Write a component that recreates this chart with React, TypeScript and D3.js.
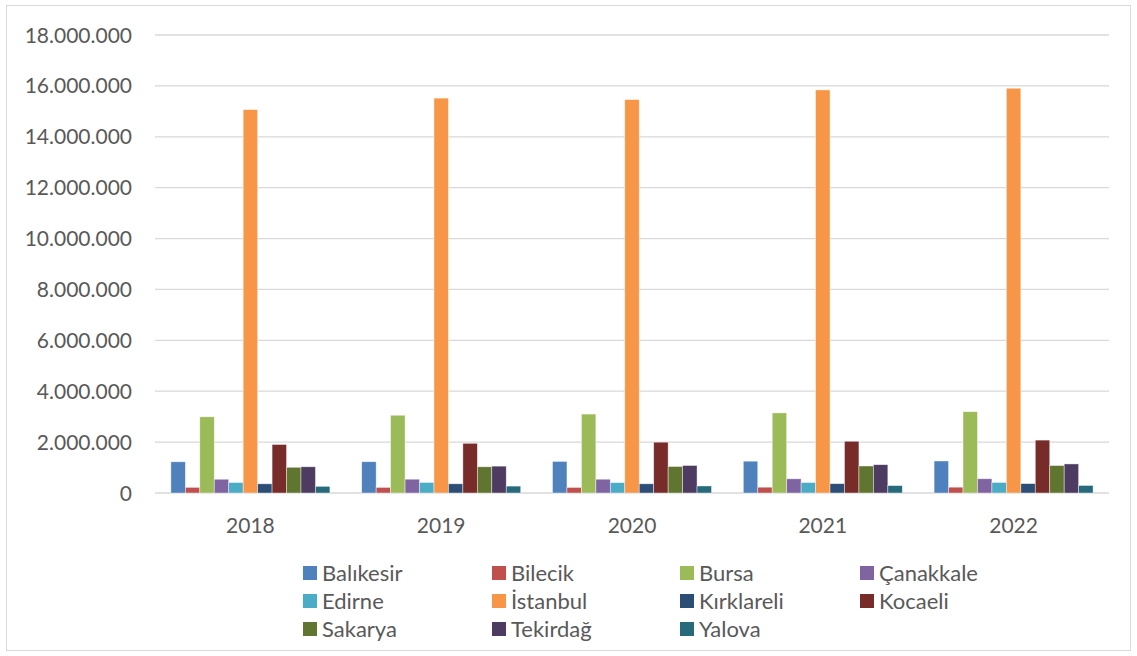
import React from "react";
import * as d3 from "d3";

const years = ["2018", "2019", "2020", "2021", "2022"];
const provinces = ["Balıkesir", "Bilecik", "Bursa", "Çanakkale", "Edirne", "İstanbul", "Kırklareli", "Kocaeli", "Sakarya", "Tekirdağ", "Yalova"];
const colors = ["#4F81BD", "#C0504D", "#9BBB59", "#8064A2", "#4BACC6", "#F79646", "#2C4D75", "#772C2A", "#5F7530", "#4D3B62", "#276A7C"];

const balikesir = [1226575, 1228620, 1240285, 1250610, 1257590];
const bilecik = [221693, 219427, 218297, 228334, 228673];
const bursa = [2994521, 3056120, 3101833, 3147818, 3194720];
const canakkale = [540662, 542157, 541548, 557276, 559383];
const edirne = [411528, 413903, 407763, 412115, 414714];
const istanbul = [15067724, 15519267, 15462452, 15840900, 15907951];
const kirklareli = [360860, 361737, 361836, 366363, 369347];
const kocaeli = [1906391, 1953035, 1997258, 2033441, 2079072];
const sakarya = [1010700, 1029650, 1042649, 1060876, 1080080];
const tekirdag = [1029927, 1055412, 1081065, 1113400, 1142451];
const yalova = [262234, 270976, 276050, 291001, 296333];

const series = [balikesir, bilecik, bursa, canakkale, edirne, istanbul, kirklareli, kocaeli, sakarya, tekirdag, yalova];
const yTicks = [0, 2000000, 4000000, 6000000, 8000000, 10000000, 12000000, 14000000, 16000000, 18000000];

const W = 1137, H = 656;
const left = 155, right = 1109, top = 35, bottom = 493;
const font = "Lato, 'Open Sans', sans-serif";

function fmt(v: number) {
  if (v === 0) return "0";
  return d3.format(",")(v).replace(/,/g, ".");
}

export default function App() {
  const x0 = d3.scaleBand<string>().domain(years).range([left, right]).paddingInner(0).paddingOuter(0);
  const gw = x0.bandwidth();
  const barW = gw / 13.2;
  const inner = barW * 11;
  const x1 = d3.scaleBand<number>().domain(d3.range(11)).range([0, inner]);
  const y = d3.scaleLinear().domain([0, 18000000]).range([bottom, top]);

  const legendCols = [303, 492, 680, 860];
  const legendRows = [573, 601, 629];

  return (
    <svg width={W} height={H} style={{ position: "absolute", left: 0, top: 0, background: "#fff" }}>
      <rect x={6.5} y={5.5} width={1124} height={645} fill="#fff" stroke="#d9d9d9" strokeWidth={1} />
      {yTicks.map((t) => (
        <g key={t}>
          <line x1={left} x2={right} y1={y(t)} y2={y(t)} stroke="#d9d9d9" strokeWidth={1.3} />
          <text x={132} y={y(t)} dy="0.36em" textAnchor="end" fontFamily={font} fontSize={21} fill="#595959">
            {fmt(t)}
          </text>
        </g>
      ))}
      {years.map((yr, yi) => {
        const gx = (x0(yr) as number) + (gw - inner) / 2;
        return (
          <g key={yr}>
            {series.map((s, si) => (
              <rect
                key={si}
                x={gx + (x1(si) as number)}
                y={y(s[yi])}
                width={x1.bandwidth()}
                height={bottom - y(s[yi])}
                fill={colors[si]}
                stroke="#ffffff"
                strokeOpacity={0.6}
                strokeWidth={0.7}
              />
            ))}
            <text x={(x0(yr) as number) + gw / 2} y={525} dy="0.36em" textAnchor="middle" fontFamily={font} fontSize={21} fill="#595959">
              {yr}
            </text>
          </g>
        );
      })}
      {provinces.map((p, i) => {
        const cx = legendCols[i % 4];
        const cy = legendRows[Math.floor(i / 4)];
        return (
          <g key={p}>
            <rect x={cx} y={cy - 7} width={14} height={14} fill={colors[i]} />
            <text x={cx + 19} y={cy} dy="0.36em" fontFamily={font} fontSize={22} fill="#595959">
              {p}
            </text>
          </g>
        );
      })}
    </svg>
  );
}
